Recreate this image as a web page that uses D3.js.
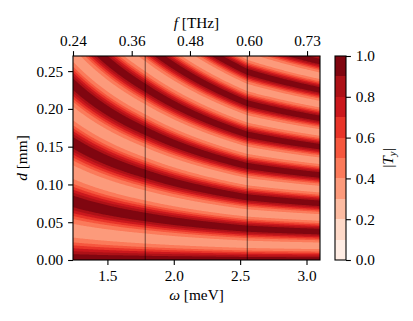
<!DOCTYPE html>
<html>
<head>
<meta charset="utf-8">
<script src="https://cdn.jsdelivr.net/npm/d3@7"></script>
<style>
  body { margin: 0; background: #fff; }
  svg { display: block; }
</style>
</head>
<body>
<svg id="chart" width="413" height="321" font-family="'Liberation Serif', 'DejaVu Serif', serif"></svg>
<script>
// axis ranges
const omegaDomain = [1.2407, 3.1017]  // meV
const dDomain = [0, 0.27]             // mm

const bottomTicks = [1.5, 2.0, 2.5, 3.0]
const leftTicks = [0, 0.05, 0.10, 0.15, 0.20, 0.25]
const topTickOmega = [1.2407, 1.683, 2.122, 2.567, 3.004]
const topTickLabels = ['0.24', '0.36', '0.48', '0.60', '0.73']
const markerOmega = [1.785, 2.554]

const levels = [0, 0.1, 0.2, 0.3, 0.4, 0.5, 0.6, 0.7, 0.8, 0.9, 1.0]
const cbarTicks = [0, 0.2, 0.4, 0.6, 0.8, 1.0]

// spacing in d between neighbouring |T_y| maxima, read at these omegas
const fringeOmega = [1.2407, 1.785, 2.554, 3.1017]
const fringeSpacing = [0.0776, 0.057, 0.0415, 0.0375]

// |T_y| read across half a fringe: 0 = on a maximum, 0.5 = midway between two
const profilePhase = [0, 0.05, 0.1, 0.15, 0.2, 0.25, 0.3, 0.35, 0.4, 0.45, 0.5]
const profileT = [1.0, 0.97, 0.9, 0.8, 0.7, 0.6, 0.5, 0.43, 0.385, 0.36, 0.35]

// matplotlib "Reds"
const redsStops = ['#fff5f0', '#fee0d2', '#fcbba1', '#fc9272', '#fb6a4a',
  '#ef3b2c', '#cb181d', '#a50f15', '#67000d']

const plot = { left: 73, right: 320, top: 56, bottom: 260 }
const cbar = { left: 335, right: 346 }
const font = "'Liberation Serif', 'DejaVu Serif', serif"
const fontSize = 15.3
const tickLen = 4.9
const lineW = 1.1

const svg = d3.select('#chart')

const x = d3.scaleLinear().domain(omegaDomain).range([plot.left, plot.right])
const y = d3.scaleLinear().domain(dDomain).range([plot.bottom, plot.top])

const reds = d3.scaleLinear()
  .domain(d3.range(redsStops.length).map(i => i / (redsStops.length - 1)))
  .range(redsStops)
  .interpolate(d3.interpolateRgb)
const layerColor = k => reds((levels[k] + levels[k + 1]) / 2)

// fringe period as omega*spacing, so the 1/omega shape survives between readings
const period = d3.scaleLinear()
  .domain(fringeOmega)
  .range(fringeOmega.map((w, i) => w * fringeSpacing[i]))
const profile = d3.scaleLinear().domain(profilePhase).range(profileT).clamp(true)

// grid for the contour field
const nx = Math.round(plot.right - plot.left)
const ny = Math.round(plot.bottom - plot.top)
const field = new Float64Array(nx * ny)
for (let j = 0; j < ny; j++) {
  const d = y.invert(plot.top + (j + 0.5) * (plot.bottom - plot.top) / ny)
  for (let i = 0; i < nx; i++) {
    const w = x.invert(plot.left + (i + 0.5) * (plot.right - plot.left) / nx)
    const p = (d * w / period(w)) % 1
    field[j * nx + i] = profile(Math.min(p, 1 - p))
  }
}

const contours = d3.contours()
  .size([nx, ny])
  .thresholds(levels.slice(0, -1))(field)

const geo = d3.geoPath()
svg.append('g')
  .attr('transform', `translate(${plot.left},${plot.top}) scale(${(plot.right - plot.left) / nx},${(plot.bottom - plot.top) / ny})`)
  .selectAll('path')
  .data(contours)
  .join('path')
  .attr('d', geo)
  .attr('fill', (c, k) => layerColor(k))

// vertical marker lines
svg.append('g')
  .selectAll('line')
  .data(markerOmega)
  .join('line')
  .attr('x1', d => x(d))
  .attr('x2', d => x(d))
  .attr('y1', plot.top)
  .attr('y2', plot.bottom)
  .attr('stroke', '#000')
  .attr('stroke-opacity', 0.5)
  .attr('stroke-width', lineW)

function styleAxis(g) {
  g.attr('font-family', font).attr('font-size', fontSize)
  g.select('.domain').remove()
  g.selectAll('.tick line').attr('stroke-width', lineW)
}

svg.append('g')
  .attr('transform', `translate(0,${plot.bottom})`)
  .call(d3.axisBottom(x).tickValues(bottomTicks).tickFormat(d3.format('.1f'))
    .tickSize(tickLen).tickPadding(tickLen))
  .call(styleAxis)

svg.append('g')
  .attr('transform', `translate(${plot.left},0)`)
  .call(d3.axisLeft(y).tickValues(leftTicks).tickFormat(d3.format('.2f'))
    .tickSize(tickLen).tickPadding(tickLen))
  .call(styleAxis)

svg.append('g')
  .attr('transform', `translate(0,${plot.top})`)
  .call(d3.axisTop(x).tickValues(topTickOmega).tickFormat((d, i) => topTickLabels[i])
    .tickSize(tickLen).tickPadding(tickLen))
  .call(styleAxis)

// frame
svg.append('rect')
  .attr('x', plot.left)
  .attr('y', plot.top)
  .attr('width', plot.right - plot.left)
  .attr('height', plot.bottom - plot.top)
  .attr('fill', 'none')
  .attr('stroke', '#000')
  .attr('stroke-width', lineW)

// axis labels
const midX = (plot.left + plot.right) / 2
const midY = (plot.top + plot.bottom) / 2

const xLabel = svg.append('text')
  .attr('x', midX).attr('y', 300)
  .attr('text-anchor', 'middle').attr('font-size', fontSize)
xLabel.append('tspan').attr('font-style', 'italic').text('ω')
xLabel.append('tspan').text(' [meV]')

const fLabel = svg.append('text')
  .attr('x', midX).attr('y', 28)
  .attr('text-anchor', 'middle').attr('font-size', fontSize)
fLabel.append('tspan').attr('font-style', 'italic').text('f')
fLabel.append('tspan').text(' [THz]')

const yLabel = svg.append('text')
  .attr('transform', `translate(27,${midY}) rotate(-90)`)
  .attr('text-anchor', 'middle').attr('font-size', fontSize)
yLabel.append('tspan').attr('font-style', 'italic').text('d')
yLabel.append('tspan').text(' [mm]')

// colorbar
const cy = d3.scaleLinear().domain([0, 1]).range([plot.bottom, plot.top])
svg.append('g')
  .selectAll('rect')
  .data(levels.slice(0, -1))
  .join('rect')
  .attr('x', cbar.left)
  .attr('width', cbar.right - cbar.left)
  .attr('y', (v, k) => cy(levels[k + 1]))
  .attr('height', (v, k) => cy(levels[k]) - cy(levels[k + 1]))
  .attr('fill', (v, k) => layerColor(k))
  .attr('shape-rendering', 'crispEdges')

svg.append('rect')
  .attr('x', cbar.left)
  .attr('y', plot.top)
  .attr('width', cbar.right - cbar.left)
  .attr('height', plot.bottom - plot.top)
  .attr('fill', 'none')
  .attr('stroke', '#000')
  .attr('stroke-width', lineW)

svg.append('g')
  .attr('transform', `translate(${cbar.right},0)`)
  .call(d3.axisRight(cy).tickValues(cbarTicks).tickFormat(d3.format('.1f'))
    .tickSize(tickLen).tickPadding(tickLen))
  .call(styleAxis)

const cLabel = svg.append('text')
  .attr('transform', `translate(393,${midY}) rotate(-90)`)
  .attr('text-anchor', 'middle').attr('font-size', fontSize)
cLabel.append('tspan').text('|')
cLabel.append('tspan').attr('font-style', 'italic').text('T')
cLabel.append('tspan').attr('font-style', 'italic').attr('font-size', fontSize * 0.7).attr('dy', '0.3em').text('y')
cLabel.append('tspan').attr('dy', '-0.2em').text('|')
</script>
</body>
</html>
